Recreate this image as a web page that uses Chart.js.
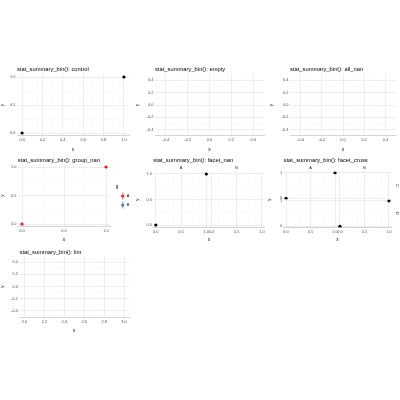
<!DOCTYPE html>
<html><head><meta charset="utf-8">
<script src="https://cdn.jsdelivr.net/npm/chart.js@4"></script>
<style>html,body{margin:0;padding:0;background:#fff;width:400px;height:400px;overflow:hidden;position:relative}</style>
</head><body>
<script>
// ---------- data ----------
const titles = ['stat_summary_bin(): control','stat_summary_bin(): empty','stat_summary_bin(): all_nan',
  'stat_summary_bin(): group_nan','stat_summary_bin(): facet_nan','stat_summary_bin(): facet_cross','stat_summary_bin(): lim'];
const controlX = [0, 1], controlY = [0, 1];
const emptyX = [], emptyY = [];
const allNanX = [], allNanY = [];
const groupLevels = ['A', 'B'];
const groupColors = ['#E41A1C', '#377EB8'];
const groupAX = [0, 1], groupAY = [0, 1];
const groupBX = [], groupBY = [];
const facetCols = ['A', 'B'];
const facetNanAX = [0, 1], facetNanAY = [0, 1];
const facetNanBX = [], facetNanBY = [];
const crossRows = ['C', 'D'];
const crossACX = [0, 1], crossACY = [0, 1];
const crossBCX = [], crossBCY = [];
const crossADX = [], crossADY = [];
const crossBDX = [0, 1], crossBDY = [0, 1];
const limX = [], limY = [];
// tick values / labels
const t01 = [0, 0.2, 0.4, 0.6, 0.8, 1], m01 = [0.1, 0.3, 0.5, 0.7, 0.9], l01 = ['0.0','0.2','0.4','0.6','0.8','1.0'];
const tHalf = [0, 0.5, 1], mHalf = [0.25, 0.75], lHalf = ['0.0','0.5','1.0'];
const tSym = [-0.4, -0.2, 0, 0.2, 0.4], mSym = [-0.3, -0.1, 0.1, 0.3], lSym = ['-0.4','-0.2','0.0','0.2','0.4'];
const tLim = [2, 2.2, 2.4, 2.6, 2.8, 3], mLim = [2.1, 2.3, 2.5, 2.7, 2.9], lLim = ['2.0','2.2','2.4','2.6','2.8','3.0'];
const tInt = [0, 1], mInt = [0.5], lInt = ['0', '1'];
const r01 = [-0.05, 1.05], rSym = [-0.5, 0.5], rLim = [1.95, 3.05];

// ---------- style ----------
const FONT = "'Liberation Sans', Arial, Helvetica, sans-serif";
const TICK_FONT = {family: FONT, size: 3.9, lineHeight: '4.7px', weight: 'normal'};
const AXT_FONT = {family: FONT, size: 4.7, lineHeight: '5.6px', weight: 'normal'};
const STRIP_FONT = {family: FONT, size: 3.9, lineHeight: '4.7px', weight: 'normal'};
const TITLE_FONT = {family: FONT, size: 5.8, lineHeight: '7px', weight: 'normal'};
const MAJOR_C = '#EDEDED', MINOR_C = '#F5F5F5';
const XPAD = 2.2, YPAD = 1.5;
Chart.defaults.animation = false;
Chart.defaults.events = [];
Chart.defaults.font.family = FONT;

function pts(xs, ys) { return xs.map((x, i) => ({x: x, y: ys[i]})); }
function ds(xs, ys, color, xId, yId) {
  return {data: pts(xs, ys), pointRadius: 1.6, pointHoverRadius: 1.6, pointBackgroundColor: color,
    pointBorderWidth: 0, borderWidth: 0, backgroundColor: color, borderColor: color, xAxisID: xId || 'x', yAxisID: yId || 'y'};
}
function mkCanvas(r) {
  const d = document.createElement('div');
  d.style.cssText = `position:absolute;left:${r.x}px;top:${r.y}px;width:${r.w}px;height:${r.h}px`;
  const c = document.createElement('canvas');
  c.width = r.w; c.height = r.h; c.style.width = r.w + 'px'; c.style.height = r.h + 'px';
  d.appendChild(c); document.body.appendChild(d); return c;
}
function fitter(horiz, size) {
  return s => {
    if (horiz) { s.height = size; s.paddingLeft = 0; s.paddingRight = 0; }
    else { s.width = size; s.paddingTop = 0; s.paddingBottom = 0; }
  };
}
function tickScale(o) {
  const horiz = o.pos === 'top' || o.pos === 'bottom';
  return {
    type: 'linear', position: o.pos, min: o.range[0], max: o.range[1], bounds: 'data',
    weight: o.weight || 0, stack: o.stack,
    afterBuildTicks: s => {
      s.ticks = o.major.map(v => ({value: v})).concat(o.minor.map(v => ({value: v, minor: true})))
        .sort((a, b) => a.value - b.value);
    },
    afterFit: fitter(horiz, o.size),
    ticks: {display: o.labels !== false, autoSkip: false, maxRotation: 0, minRotation: 0, padding: horiz ? XPAD : YPAD,
      font: TICK_FONT, color: '#4D4D4D',
      callback: v => { const k = o.major.indexOf(v); return (k < 0 || !o.labels) ? '' : o.labels[k]; }},
    grid: {display: true, drawTicks: false,
      color: c => (c.tick && c.tick.minor) ? MINOR_C : MAJOR_C,
      lineWidth: c => (c.tick && c.tick.minor) ? 0.5 : 1},
    border: {display: !!o.border, color: '#D4D4D4', width: 1},
    title: o.title ? {display: true, text: o.title, font: AXT_FONT, color: '#000', padding: o.titlePad} : {display: false}
  };
}
function titleScale(o) {
  const horiz = o.pos === 'top' || o.pos === 'bottom';
  return {
    type: 'linear', position: o.pos, display: true, weight: o.weight || 0, stack: o.stack,
    afterFit: fitter(horiz, o.size),
    ticks: {display: false}, grid: {display: false, drawTicks: false}, border: {display: false},
    title: {display: true, text: o.text, font: o.font, color: o.color || '#000', padding: o.pad, align: 'center'}
  };
}
function titlePlugin(text, rect, titleY, areaTop) {
  return {display: true, text: text, align: 'start', fullSize: false, color: '#000', font: TITLE_FONT,
    padding: {top: titleY - 3.5 - rect.y, bottom: areaTop - titleY - 3.5}};
}

function singlePanel(p) {
  const r = p.rect, a = p.area;
  const cv = mkCanvas(r);
  const scales = {
    x: tickScale({pos: 'bottom', range: p.xr, major: p.xt, minor: p.xm, labels: p.xl, size: r.y + r.h - a.b,
      border: true, title: 'x', titlePad: {top: 0, bottom: r.y + r.h - p.xTitleY - 2.8}}),
    y: tickScale({pos: 'left', range: p.yr, major: p.yt, minor: p.ym, labels: p.yl, size: a.l - r.x,
      title: 'y', titlePad: {top: p.yTitleX - 2.8 - r.x, bottom: 0}})
  };
  let rightUsed = 0;
  const plugins = {title: titlePlugin(p.title, r, p.titleY, a.t), legend: {display: false}, tooltip: {enabled: false}};
  if (p.legend) {
    scales.gap = titleScale({pos: 'right', size: p.legend.gap, text: '', font: AXT_FONT, pad: 0});
    scales.gap.title.display = false;
    rightUsed = p.legend.gap + p.legend.width;
    plugins.legend = p.legend.opts;
  }
  return new Chart(cv, {
    type: 'scatter',
    data: {datasets: p.datasets},
    options: {responsive: false, devicePixelRatio: 1, animation: false,
      layout: {padding: {left: 0, top: 0, bottom: 0, right: r.x + r.w - a.r - rightUsed}},
      scales: scales, plugins: plugins}
  });
}

// ---------- row 1 ----------
singlePanel({rect: {x: 0, y: 65, w: 133, h: 88}, area: {l: 17, t: 74.2, r: 129, b: 135.8},
  title: titles[0], titleY: 69, xTitleY: 149.5, yTitleX: 3,
  xr: r01, xt: t01, xm: m01, xl: l01, yr: r01, yt: tHalf, ym: mHalf, yl: lHalf,
  datasets: [ds(controlX, controlY, '#000')]});
singlePanel({rect: {x: 133, y: 65, w: 134, h: 88}, area: {l: 155, t: 74.2, r: 264, b: 135.8},
  title: titles[1], titleY: 69, xTitleY: 149.5, yTitleX: 137.5,
  xr: rSym, xt: tSym, xm: mSym, xl: lSym, yr: rSym, yt: tSym, ym: mSym, yl: lSym,
  datasets: [ds(emptyX, emptyY, '#000')]});
singlePanel({rect: {x: 267, y: 65, w: 133, h: 88}, area: {l: 290, t: 74.2, r: 396, b: 135.8},
  title: titles[2], titleY: 69, xTitleY: 149.5, yTitleX: 272,
  xr: rSym, xt: tSym, xm: mSym, xl: lSym, yr: rSym, yt: tSym, ym: mSym, yl: lSym,
  datasets: [ds(allNanX, allNanY, '#000')]});

// ---------- row 2: group_nan ----------
function keyImg(color) {
  const c = document.createElement('canvas'); c.width = 5; c.height = 8;
  const g = c.getContext('2d');
  g.strokeStyle = color; g.lineWidth = 0.7;
  g.beginPath(); g.moveTo(2.5, 0.5); g.lineTo(2.5, 7.5); g.stroke();
  g.fillStyle = color; g.beginPath(); g.arc(2.5, 4, 1.6, 0, Math.PI * 2); g.fill();
  return c;
}
const keyImgs = groupColors.map(keyImg);
singlePanel({rect: {x: 0, y: 156, w: 140, h: 88}, area: {l: 17.8, t: 164.15, r: 110.2, b: 226.85},
  title: titles[3], titleY: 160, xTitleY: 240, yTitleX: 3,
  xr: r01, xt: tHalf, xm: mHalf, xl: lHalf, yr: r01, yt: tHalf, ym: mHalf, yl: lHalf,
  datasets: [
    Object.assign(ds(groupAX, groupAY, groupColors[0]), {label: groupLevels[0]}),
    Object.assign(ds(groupBX, groupBY, groupColors[1]), {label: groupLevels[1]})],
  legend: {gap: 5.5, width: 16, opts: {
    display: true, position: 'right', align: 'center', fullSize: false, maxWidth: 16,
    title: {display: true, text: 'g', color: '#000', font: AXT_FONT, position: 'start', padding: {top: 5.7, bottom: -1.3}},
    labels: {usePointStyle: true, padding: 5.1, font: TICK_FONT, color: '#000',
      generateLabels: chart => Chart.defaults.plugins.legend.labels.generateLabels(chart)
        .map((it, i) => Object.assign(it, {pointStyle: keyImgs[i], lineWidth: 0, hidden: false}))}
  }}});

// ---------- row 2: facet_nan ----------
(function () {
  const r = {x: 133, y: 156, w: 134, h: 88}, a = {l: 153.3, t: 171.45, r: 264.4, b: 227.55};
  const titleY = 160, stripY = 168, xTitleY = 240, yTitleX = 137.5;
  const stripTop = titleY + 3.5;
  const cv = mkCanvas(r);
  new Chart(cv, {
    type: 'scatter',
    data: {datasets: [ds(facetNanAX, facetNanAY, '#000', 'xA', 'y'), ds(facetNanBX, facetNanBY, '#000', 'xB', 'y')]},
    options: {responsive: false, devicePixelRatio: 1, animation: false,
      layout: {padding: {left: 0, top: 0, bottom: 0, right: r.x + r.w - a.r}},
      scales: {
        xA: tickScale({pos: 'bottom', stack: 'fx', range: r01, major: tHalf, minor: mHalf, labels: lHalf, size: 7, border: true}),
        xB: tickScale({pos: 'bottom', stack: 'fx', range: r01, major: tHalf, minor: mHalf, labels: lHalf, size: 7, border: true}),
        xt: titleScale({pos: 'bottom', weight: 10, size: r.y + r.h - a.b - 7, text: 'x', font: AXT_FONT,
          pad: {top: 0, bottom: r.y + r.h - xTitleY - 2.8}}),
        y: tickScale({pos: 'left', range: r01, major: tHalf, minor: mHalf, labels: lHalf, size: a.l - r.x,
          title: 'y', titlePad: {top: yTitleX - 2.8 - r.x, bottom: 0}}),
        sA: titleScale({pos: 'top', stack: 'fs', weight: 0.2, size: a.t - stripTop, text: facetCols[0], font: STRIP_FONT,
          color: '#1A1A1A', pad: {top: stripY - 2.35 - stripTop, bottom: 0}}),
        sB: titleScale({pos: 'top', stack: 'fs', weight: 0.1, size: a.t - stripTop, text: facetCols[1], font: STRIP_FONT,
          color: '#1A1A1A', pad: {top: stripY - 2.35 - stripTop, bottom: 0}})
      },
      plugins: {title: titlePlugin(titles[4], r, titleY, stripTop), legend: {display: false}, tooltip: {enabled: false}}}
  });
})();

// ---------- row 2: facet_cross ----------
(function () {
  const r = {x: 267, y: 156, w: 133, h: 88}, a = {l: 283.6, t: 171.45, r: 391.4, b: 227.55};
  const titleY = 160, stripY = 168, xTitleY = 240, yTitleX = 270, rStripX = 397;
  const stripTop = titleY + 3.5;
  const ytW = 6, rW = r.x + r.w - a.r;
  const cv = mkCanvas(r);
  new Chart(cv, {
    type: 'scatter',
    data: {datasets: [
      ds(crossACX, crossACY, '#000', 'xA', 'yC'), ds(crossBCX, crossBCY, '#000', 'xB', 'yC'),
      ds(crossADX, crossADY, '#000', 'xA', 'yD'), ds(crossBDX, crossBDY, '#000', 'xB', 'yD')]},
    options: {responsive: false, devicePixelRatio: 1, animation: false,
      layout: {padding: {left: 0, top: 0, bottom: 0, right: 0}},
      scales: {
        xA: tickScale({pos: 'bottom', stack: 'fx', range: r01, major: tHalf, minor: mHalf, labels: lHalf, size: 7, border: true}),
        xB: tickScale({pos: 'bottom', stack: 'fx', range: r01, major: tHalf, minor: mHalf, labels: lHalf, size: 7, border: true}),
        xt: titleScale({pos: 'bottom', weight: 10, size: r.y + r.h - a.b - 7, text: 'x', font: AXT_FONT,
          pad: {top: 0, bottom: r.y + r.h - xTitleY - 2.8}}),
        yt: titleScale({pos: 'left', weight: 10, size: ytW, text: 'y', font: AXT_FONT, pad: {top: yTitleX - 2.8 - r.x, bottom: 0}}),
        yC: tickScale({pos: 'left', stack: 'fy', weight: 1, range: r01, major: tInt, minor: mInt, labels: lInt, size: a.l - r.x - ytW}),
        yD: tickScale({pos: 'left', stack: 'fy', weight: 0.5, range: r01, major: tInt, minor: mInt, labels: lInt, size: a.l - r.x - ytW}),
        sA: titleScale({pos: 'top', stack: 'fs', weight: 0.2, size: a.t - stripTop, text: facetCols[0], font: STRIP_FONT,
          color: '#1A1A1A', pad: {top: stripY - 2.35 - stripTop, bottom: 0}}),
        sB: titleScale({pos: 'top', stack: 'fs', weight: 0.1, size: a.t - stripTop, text: facetCols[1], font: STRIP_FONT,
          color: '#1A1A1A', pad: {top: stripY - 2.35 - stripTop, bottom: 0}}),
        rC: titleScale({pos: 'right', stack: 'fr', weight: 0, size: rW, text: crossRows[0], font: STRIP_FONT,
          color: '#1A1A1A', pad: {top: r.x + r.w - rStripX - 2.35, bottom: 0}}),
        rD: titleScale({pos: 'right', stack: 'fr', weight: 0.1, size: rW, text: crossRows[1], font: STRIP_FONT,
          color: '#1A1A1A', pad: {top: r.x + r.w - rStripX - 2.35, bottom: 0}})
      },
      plugins: {title: titlePlugin(titles[5], r, titleY, stripTop), legend: {display: false}, tooltip: {enabled: false}}}
  });
})();

// ---------- row 3 ----------
singlePanel({rect: {x: 0, y: 248, w: 133, h: 88}, area: {l: 19.5, t: 255.9, r: 129, b: 317.1},
  title: titles[6], titleY: 252, xTitleY: 331, yTitleX: 3,
  xr: rLim, xt: tLim, xm: mLim, xl: lLim, yr: rSym, yt: tSym, ym: mSym, yl: lSym,
  datasets: [ds(limX, limY, '#000')]});
</script>
</body></html>
